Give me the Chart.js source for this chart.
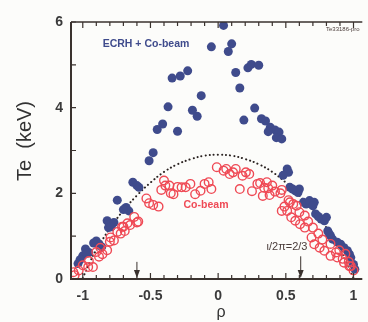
<!DOCTYPE html>
<html>
<head>
<meta charset="utf-8">
<script src="https://cdn.jsdelivr.net/npm/chart.js@4/dist/chart.umd.min.js"></script>
<style>
  html, body { margin: 0; padding: 0; background: #fcfcfa; }
  #wrap { width: 368px; height: 322px; }
</style>
</head>
<body>
<div id="wrap"><canvas id="grafico" width="368" height="322"></canvas></div>
<script>
// ---------------- dados ----------------
const ecrhRho = [
  0.04, -0.05, 0.10, 0.075,
  -0.34, -0.28, -0.225, 0.13, 0.22, 0.245, 0.30,
  0.16, -0.125, -0.37, -0.19, -0.155, 0.27, 0.19, 0.32, 0.35,
  -0.30, -0.45, -0.41,
  0.385, 0.42, 0.45, 0.37, 0.43, 0.47,
  -0.48, -0.51, -0.63, -0.60, -0.585, -0.745, -0.68, -0.66, -0.70,
  -0.82, -0.80, -0.77, -0.81, -0.79,
  -0.90, -0.88, -0.86, -0.92,
  -0.98, -0.955, -1.0, -1.02, -1.035, -0.97,
  0.51, 0.52, 0.48,
  0.53, 0.57, 0.59, 0.60, 0.55,
  0.63, 0.65, 0.675, 0.71, 0.70,
  0.72, 0.76, 0.785, 0.80, 0.74,
  0.81, 0.83, 0.845, 0.82,
  0.905, 0.93, 0.955, 0.98,
  1.0, 1.01, 0.88, 0.97
];
const ecrhTe = [
  5.92, 5.42, 5.49, 5.31,
  4.69, 4.74, 4.86, 4.82, 4.93, 5.01, 4.99,
  4.46, 4.28, 4.02, 3.94, 3.80, 3.99, 3.71, 3.74, 3.69,
  3.45, 3.49, 3.62,
  3.54, 3.48, 3.43, 3.44, 3.30, 3.27,
  2.95, 2.76, 2.26, 2.18, 2.14, 1.84, 1.67, 1.59, 1.62,
  1.36, 1.28, 1.32, 1.20, 1.22,
  0.89, 0.81, 0.75, 0.84,
  0.70, 0.62, 0.54, 0.45, 0.36, 0.60,
  2.57, 2.49, 2.42,
  2.14, 2.06, 2.02, 2.10, 2.10,
  1.79, 1.75, 1.83, 1.79, 1.71,
  1.52, 1.40, 1.36, 1.44, 1.46,
  1.12, 1.01, 0.93, 1.06,
  0.81, 0.73, 0.66, 0.50,
  0.34, 0.23, 0.86, 0.58
];

const coRho = [
  -1.07, -1.06, -1.03, -1.0, -0.96, -0.925, -0.955, -0.88, -0.90, -0.855, -0.87, -0.82, -0.80, -0.77, -0.795,
  -0.745, -0.72, -0.70, -0.67, -0.65, -0.62, -0.59, -0.60, -0.71, -0.69,
  -0.53, -0.51, -0.48, -0.44, -0.42, -0.40, -0.39, -0.35, -0.30,
  -0.36, -0.33, -0.27, -0.24, -0.205, -0.17, -0.13, -0.10, -0.07, -0.05,
  -0.01, 0.04, 0.06, 0.085, 0.11, 0.13, 0.16, 0.18, 0.205, 0.23,
  0.25, 0.29, 0.31, 0.34, 0.37, 0.38, 0.42, 0.46, 0.47, 0.33, 0.40, 0.36,
  0.52, 0.53, 0.555, 0.58, 0.60, 0.64, 0.665, 0.70, 0.74, 0.77, 0.83, 0.87, 0.92, 0.965, 0.98, 1.0, 0.895, 0.94,
  0.47, 0.51, 0.54, 0.57, 0.64, 0.69, 0.71, 0.75, 0.785, 0.83, 0.88, 0.93, 0.97, 0.49, 0.605
];
const coTe = [
  0.16, 0.09, 0.20, 0.32, 0.28, 0.28, 0.42, 0.52, 0.63, 0.58, 0.73, 0.67, 0.87, 0.90, 0.97,
  1.10, 1.06, 1.22, 1.30, 1.26, 1.45, 1.34, 1.32, 1.22, 1.12,
  1.88, 1.77, 1.73, 1.69, 2.08, 2.30, 2.18, 2.00, 2.15,
  2.18, 1.98, 2.14, 2.14, 2.22, 1.98, 2.06, 2.22, 2.26, 2.10,
  2.61, 2.53, 2.57, 2.45, 2.49, 2.57, 2.10, 2.41, 2.49, 2.45,
  2.05, 2.22, 2.24, 2.13, 2.12, 1.96, 2.04, 2.00, 2.08, 1.94, 2.18, 2.26,
  1.84, 1.79, 1.75, 1.71, 1.56, 1.48, 1.34, 1.20, 1.06, 0.92, 0.82, 0.62, 0.47, 0.40, 0.30, 0.20, 0.67, 0.59,
  1.59, 1.59, 1.44, 1.36, 1.20, 0.97, 0.81, 0.73, 0.66, 0.54, 0.50, 0.38, 0.30, 1.69, 1.28
];

// curva pontilhada (ajuste)
const fitRho = [-1.0, -0.95, -0.9, -0.8, -0.7, -0.6, -0.5, -0.4, -0.3, -0.2, -0.1, 0, 0.1, 0.2, 0.3, 0.4, 0.5, 0.6, 0.7, 0.8, 0.9, 0.95, 1.0];
const fitTe = [0.02, 0.38, 0.68, 1.18, 1.6, 1.95, 2.25, 2.5, 2.68, 2.8, 2.88, 2.9, 2.88, 2.8, 2.68, 2.5, 2.25, 1.95, 1.6, 1.2, 0.7, 0.38, 0.02];

const xTickLabels = [-1, -0.5, 0, 0.5, 1];
const yTickLabels = [0, 2, 4, 6];
const xMinorTicks = [-1, -0.9, -0.8, -0.7, -0.6, -0.5, -0.4, -0.3, -0.2, -0.1, 0, 0.1, 0.2, 0.3, 0.4, 0.5, 0.6, 0.7, 0.8, 0.9, 1];
const yMinorTicks = [0, 1, 2, 3, 4, 5, 6];
const arrowRho = [-0.6, 0.61];
const arrowTop = [0.4, 0.53];

// ---------------- desenho ----------------
const corEixo = "#3a322e";
const corAzul = "#3f4b8c";
const corVermelho = "#ef4a55";

const pares = (xs, ys) => xs.map((v, i) => ({ x: v, y: ys[i] }));

const molduraPlugin = {
  id: "moldura",
  afterDatasetsDraw(chart) {
    const { ctx, chartArea: a, scales: { x, y } } = chart;
    ctx.save();
    ctx.strokeStyle = corEixo;
    ctx.fillStyle = corEixo;

    // eixos
    ctx.lineWidth = 2;
    ctx.beginPath();
    ctx.moveTo(a.left, a.top);
    ctx.lineTo(a.left, a.bottom);
    ctx.lineTo(a.right, a.bottom);
    ctx.stroke();
    ctx.lineWidth = 1.5;
    ctx.beginPath();
    ctx.moveTo(a.left, a.top);
    ctx.lineTo(a.right, a.top);
    ctx.stroke();

    // marcas
    ctx.lineWidth = 1.2;
    ctx.beginPath();
    xMinorTicks.forEach((v) => {
      const px = x.getPixelForValue(v);
      const big = xTickLabels.includes(v);
      const len = big ? 6 : 4;
      ctx.moveTo(px, a.bottom);
      ctx.lineTo(px, a.bottom - len);
      ctx.moveTo(px, a.top);
      ctx.lineTo(px, a.top + len);
    });
    yMinorTicks.forEach((v) => {
      const py = y.getPixelForValue(v);
      ctx.moveTo(a.left, py);
      ctx.lineTo(a.left + 5, py);
    });
    ctx.stroke();

    // setas
    ctx.lineWidth = 1;
    arrowRho.forEach((r, i) => {
      const px = x.getPixelForValue(r);
      const top = y.getPixelForValue(arrowTop[i]);
      ctx.beginPath();
      ctx.moveTo(px, top);
      ctx.lineTo(px, a.bottom - 6);
      ctx.stroke();
      ctx.beginPath();
      ctx.moveTo(px - 3, a.bottom - 9);
      ctx.lineTo(px + 3, a.bottom - 9);
      ctx.lineTo(px, a.bottom - 1);
      ctx.closePath();
      ctx.fill();
    });

    // textos
    ctx.textAlign = "center";
    ctx.textBaseline = "middle";
    ctx.font = "bold 10.5px Arial, 'Liberation Sans', sans-serif";
    ctx.fillStyle = corAzul;
    ctx.fillText("ECRH + Co-beam", 146, 44);
    ctx.fillStyle = corVermelho;
    ctx.fillText("Co-beam", 206, 205);

    ctx.fillStyle = "#4a3c3a";
    ctx.font = "11px Arial, 'Liberation Sans', sans-serif";
    ctx.fillText("\u03b9/2\u03c0=2/3", 287, 247);
    ctx.font = "6px Arial, 'Liberation Sans', sans-serif";
    ctx.textAlign = "left";
    ctx.fillText("Te33186-pro", 326, 29);

    ctx.fillStyle = "#333";
    ctx.textAlign = "center";
    ctx.font = "16px Arial, 'Liberation Sans', sans-serif";
    ctx.fillText("\u03c1", 221, 313);

    ctx.translate(25, 141);
    ctx.rotate(-Math.PI / 2);
    ctx.font = "20px Arial, 'Liberation Sans', sans-serif";
    ctx.fillText("Te  (keV)", 0, 0);
    ctx.restore();
  },
};

new Chart(document.getElementById("grafico"), {
  type: "scatter",
  data: {
    datasets: [
      {
        label: "fit",
        type: "line",
        data: pares(fitRho, fitTe),
        borderColor: "#2a2220",
        borderWidth: 2,
        borderDash: [0.1, 4],
        borderCapStyle: "round",
        pointRadius: 0,
        tension: 0.4,
        fill: false,
        order: 3,
      },
      {
        label: "ECRH + Co-beam",
        data: pares(ecrhRho, ecrhTe),
        backgroundColor: corAzul,
        borderColor: corAzul,
        borderWidth: 0,
        pointRadius: 4.5,
        order: 2,
      },
      {
        label: "Co-beam",
        data: pares(coRho, coTe),
        backgroundColor: "rgba(0,0,0,0)",
        borderColor: corVermelho,
        borderWidth: 1.4,
        pointRadius: 4.3,
        order: 1,
      },
    ],
  },
  options: {
    responsive: false,
    animation: false,
    events: [],
    layout: { padding: { top: 22, left: 0, right: 0, bottom: 0 } },
    plugins: { legend: { display: false }, tooltip: { enabled: false } },
    scales: {
      x: {
        type: "linear",
        min: -1.087,
        max: 1.065,
        grid: { display: false, drawTicks: false },
        border: { display: false },
        afterBuildTicks: (s) => { s.ticks = xTickLabels.map((v) => ({ value: v })); },
        afterFit: (s) => { s.height = 43; },
        ticks: {
          autoSkip: false,
          maxRotation: 0,
          padding: 9,
          color: "#3a3a3a",
          font: { family: "Arial, 'Liberation Sans', sans-serif", size: 14, weight: "bold" },
          callback: (v) => String(v),
        },
      },
      y: {
        type: "linear",
        min: 0,
        max: 6,
        grid: { display: false, drawTicks: false },
        border: { display: false },
        afterBuildTicks: (s) => { s.ticks = yTickLabels.map((v) => ({ value: v })); },
        afterFit: (s) => { s.width = 71; },
        ticks: {
          padding: 8,
          color: "#3a3a3a",
          font: { family: "Arial, 'Liberation Sans', sans-serif", size: 14, weight: "bold" },
          callback: (v) => String(v),
        },
      },
    },
  },
  plugins: [molduraPlugin],
});
</script>
</body>
</html>
